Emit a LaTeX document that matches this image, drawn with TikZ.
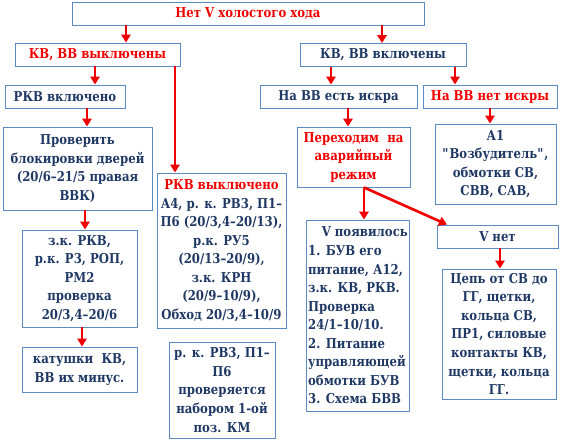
\documentclass[tikz,border=0pt]{standalone}
\usepackage{fontspec}
\setmainfont{DejaVu Serif}[FakeStretch=0.86]
\usetikzlibrary{arrows.meta}

\definecolor{boxblue}{RGB}{91,139,197}
\definecolor{txtblue}{RGB}{31,56,100}
\definecolor{arrred}{RGB}{240,0,0}

\tikzset{
  box/.style={draw=boxblue, line width=0.7pt, inner sep=1pt, align=center,
    text=txtblue, font=\fontsize{10.2}{13.9}\selectfont\bfseries},
  redbox/.style={box, text=arrred},
  arr/.style={draw=arrred, line width=2pt, -{Triangle[length=6pt,width=7pt]}}
}

\begin{document}
\begin{tikzpicture}[x=0.75pt, y=-0.75pt]
    \useasboundingbox (0,0) rectangle (561,443);

    % Top
    \node[redbox, minimum width=264pt, minimum height=17.25pt] (top) at (248,13.5) {Нет V холостого хода};

    % Left branch
    \node[redbox, minimum width=123.75pt, minimum height=17.25pt] (kvoff) at (97.5,54.5) {КВ, ВВ выключены};
    \node[box, minimum width=90pt, minimum height=17.25pt] (rkvon) at (65,96.5) {РКВ включено};
    \node[box, minimum width=111.75pt, minimum height=62.25pt] (check) at (77.5,168.5)
        {Проверить\\блокировки дверей\\(20/6–21/5 правая\\ВВК)};
    \node[box, minimum width=86.25pt, minimum height=72.75pt] (zk) at (79.5,278.5)
        {з.к. РКВ,\\р.к. Р3, РОП,\\РМ2\\проверка\\20/3,4–20/6};
    \node[box, minimum width=86.25pt, minimum height=33.75pt] (coil) at (79.5,369.5)
        {катушки~ КВ,\\ВВ их минус.};
    \node[box, minimum width=96.75pt, minimum height=116.25pt] (rkvoff) at (221.5,250.5)
        {\textcolor{arrred}{РКВ выключено}\\А4, р. к. РВ3, П1–\\П6 (20/3,4–20/13),\\р.к. РУ5\\(20/13–20/9),\\з.к. КРН\\(20/9–10/9),\\Обход 20/3,4–10/9};
    \node[box, minimum width=79.5pt, minimum height=72pt] (rv3) at (222,390)
        {р. к. РВ3, П1–\\П6\\проверяется\\набором 1-ой\\поз. КМ};

    % Right branch
    \node[box, minimum width=124.5pt, minimum height=17.25pt] (kvon) at (383,55) {КВ, ВВ включены};
    \node[box, minimum width=117.75pt, minimum height=17.25pt] (spark) at (338.5,96.5) {На ВВ есть искра};
    \node[redbox, minimum width=100.5pt, minimum height=17.25pt] (nospark) at (490,96.5) {На ВВ нет искры};
    \node[redbox, minimum width=84.75pt, minimum height=45pt] (emerg) at (353.5,157)
        {Переходим~ на\\аварийный\\режим};
    \node[box, minimum width=90.75pt, minimum height=60pt] (a1) at (495.5,164)
        {А1\\\textquotedbl Возбудитель\textquotedbl,\\обмотки СВ,\\СВВ, САВ,};
    \node[box, minimum width=76.5pt, minimum height=143.25pt, align=left] (vyes) at (358,315.5)
        {\hspace*{1em}V появилось\\1. БУВ его\\питание, А12,\\з.к. КВ, РКВ.\\Проверка\\24/1–10/10.\\2. Питание\\управляющей\\обмотки БУВ\\3. Схема БВВ};
    \node[box, minimum width=90.75pt, minimum height=17.25pt] (vno) at (497.5,236.5) {V нет};
    \node[box, minimum width=85.5pt, minimum height=97.5pt] (chain) at (499,334)
        {Цепь от СВ до\\ГГ, щетки,\\кольца СВ,\\ПР1, силовые\\контакты КВ,\\щетки, кольца\\ГГ.};

    % Arrows
    \draw[arr] (top.south -| 126,0) -- (kvoff.north -| 126,0);
    \draw[arr] (top.south -| 382,0) -- (kvon.north -| 382,0);
    \draw[arr] (kvoff.south -| 95,0) -- (rkvon.north -| 95,0);
    \draw[arr] (kvoff.south -| 175,0) -- (rkvoff.north -| 175,0);
    \draw[arr] (rkvon.south -| 87,0) -- (check.north -| 87,0);
    \draw[arr] (check.south -| 85,0) -- (zk.north -| 85,0);
    \draw[arr] (zk.south -| 82,0) -- (coil.north -| 82,0);
    \draw[arr] (kvon.south -| 331,0) -- (spark.north -| 331,0);
    \draw[arr] (kvon.south -| 455,0) -- (nospark.north -| 455,0);
    \draw[arr] (spark.south -| 348,0) -- (emerg.north -| 348,0);
    \draw[arr] (nospark.south -| 490,0) -- (a1.north -| 490,0);
    \coordinate (split) at (emerg.south -| 364,0);
    \draw[arr] (split) -- (vyes.north -| 364,0);
    \draw[arr] (split) -- (vno.north -| 447,0);
    \draw[arr] (vno.south -| 500,0) -- (chain.north -| 500,0);
\end{tikzpicture}
\end{document}
